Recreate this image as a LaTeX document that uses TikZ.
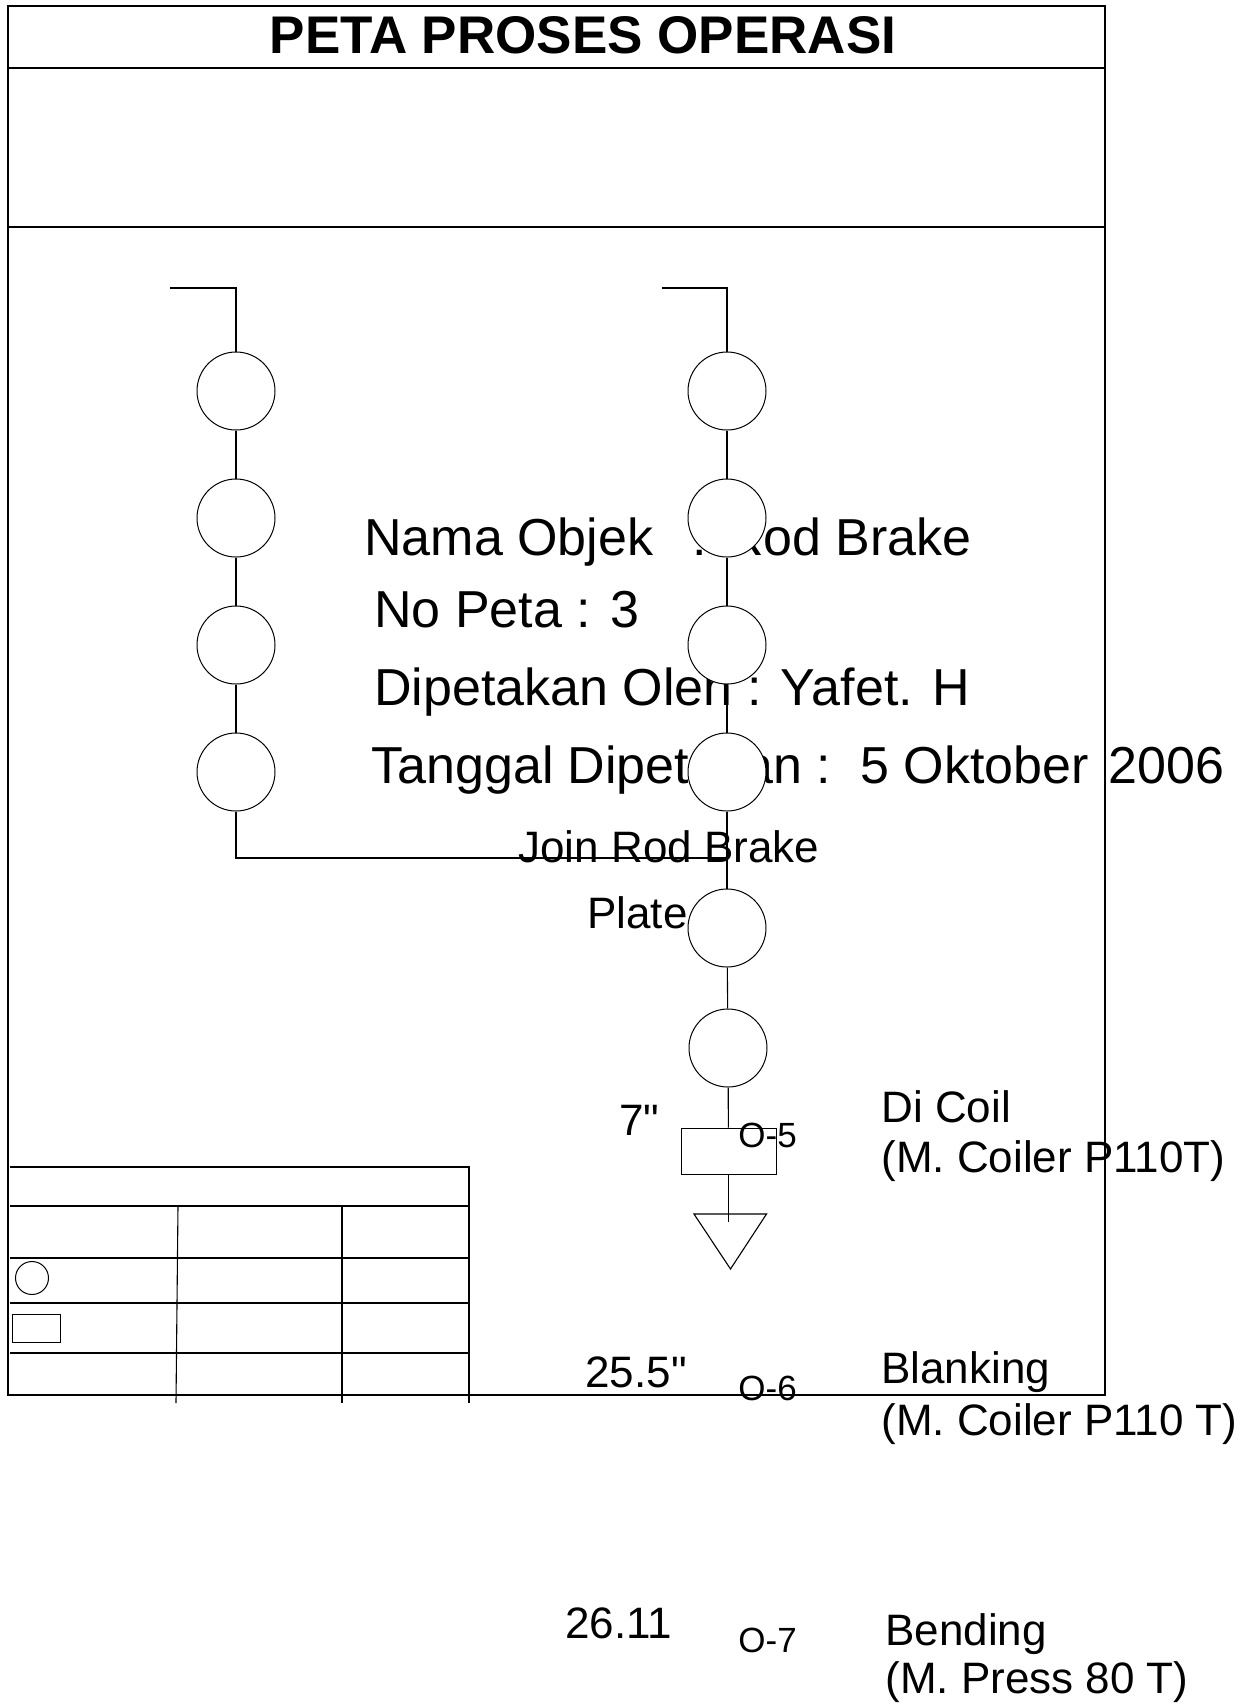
\documentclass[tikz,border=0pt]{standalone}
\usepackage{fontspec}
\newfontfamily\arial{Liberation Sans}
\begin{document}
\begin{tikzpicture}[x=0.5pt,y=-0.5pt,
  ln/.style={line width=0.55pt},
  proc/.style={circle, draw, fill=white, minimum size=39pt, inner sep=0pt, line width=0.5pt},
  procbox/.style={rectangle, draw, fill=white, minimum width=47.5pt, minimum height=23pt, inner sep=0pt, line width=0.5pt},
  txt/.style={anchor=base west, inner sep=0pt},
  big/.style={font=\arial\fontsize{26}{30}\selectfont},
  mid/.style={font=\arial\fontsize{22}{26}\selectfont},
  small/.style={font=\arial\fontsize{17.5}{20}\selectfont},
  ttl/.style={font=\arial\bfseries\fontsize{26.5}{30}\selectfont, anchor=base, inner sep=0pt}]
\useasboundingbox (0,0) rectangle (1259,1705);
% frame
\draw[ln] (8,6) rectangle (1105,1395);
\draw[line width=0.7pt] (8,68) -- (1105,68);
\draw[line width=0.7pt] (8,227) -- (1105,227);
\node[ttl] (title) at (583,53) {PETA PROSES OPERASI};
% info text
\node[txt,big] (nama) at (364,555) {Nama Objek\hspace{19.5pt}: Rod Brake};
\node[txt,big] (nope) at (374,627) {No Peta : 3};
\node[txt,big] (oleh) at (374,705) {Dipetakan Oleh : Yafet. H};
\node[txt,big] (tgl) at (371,783) {Tanggal Dipetakan :\hspace{5pt} 5 Oktober\hspace{3pt} 2006};
\node[txt,mid] (join) at (518,862) {Join Rod Brake};
\node[txt,mid] (plate) at (587,928) {Plate};
% coordinates
\coordinate (lb) at (170,288);
\coordinate (lc) at (236,288);
\coordinate (rb) at (662,288);
\coordinate (rc) at (727,288);
\coordinate (lj) at (236,858);
\coordinate (rj) at (727,858);
% circles
\node[proc] (l1) at (236,391) {};
\node[proc] (l2) at (236,518) {};
\node[proc] (l3) at (236,645) {};
\node[proc] (l4) at (236,772) {};
\node[proc] (r1) at (727,391) {};
\node[proc] (r2) at (727,518) {};
\node[proc] (r3) at (727,645) {};
\node[proc] (r4) at (727,772) {};
\node[proc] (r5) at (727,928) {};
\node[proc] (r6) at (728,1048) {};
\node[procbox] (box) at (728.5,1151) {};
\coordinate (t1) at (694,1214);
\coordinate (t2) at (766.5,1214);
\coordinate (t3) at (730.5,1269);
\coordinate (tin) at (728.5,1222);
% connectors
\draw[ln] (lb) -- (lc) -- (l1);
\draw[ln] (l1) -- (l2);
\draw[ln] (l2) -- (l3);
\draw[ln] (l3) -- (l4);
\draw[ln] (l4) -- (lj) -- (rj);
\draw[ln] (rb) -- (rc) -- (r1);
\draw[ln] (r1) -- (r2);
\draw[ln] (r2) -- (r3);
\draw[ln] (r3) -- (r4);
\draw[ln] (r4) -- (r5);
\draw[ln] (r5) -- (r6);
\draw[ln] (r6) -- (box);
\draw[ln] (box) -- (tin);
\draw[ln] (t1) -- (t2) -- (t3) -- cycle;
% labels
\node[txt,mid] (d1) at (619,1135) {7"};
\node[txt,small] (o5) at (738,1147) {O-5};
\node[txt,mid] (a1) at (881,1122) {Di Coil};
\node[txt,mid] (b1) at (881,1172) {(M. Coiler P110T)};
\node[txt,mid] (d2) at (585,1387) {25.5"};
\node[txt,small] (o6) at (738,1400) {O-6};
\node[txt,mid] (a2) at (881,1383) {Blanking};
\node[txt,mid] (b2) at (881,1435) {(M. Coiler P110 T)};
\node[txt,mid] (d3) at (565,1638) {26.11};
\node[txt,small] (o7) at (738,1652) {O-7};
\node[txt,mid] (a3) at (885,1645) {Bending};
\node[txt,mid] (b3) at (885,1693) {(M. Press 80 T)};
% summary table
\draw[ln] (10,1167) -- (469,1167) -- (469,1403);
\draw[ln] (10,1206) -- (469,1206);
\draw[ln] (10,1258) -- (469,1258);
\draw[ln] (10,1303) -- (469,1303);
\draw[ln] (10,1353) -- (469,1353);
\draw[ln] (178,1206) -- (176,1403);
\draw[ln] (342,1206) -- (342,1403);
\node[circle, draw, minimum size=16.5pt, inner sep=0pt, line width=0.5pt] (sc) at (32,1278) {};
\node[rectangle, draw, minimum width=24pt, minimum height=14pt, inner sep=0pt, line width=0.5pt] (sr) at (36.7,1328) {};
\end{tikzpicture}
\end{document}
